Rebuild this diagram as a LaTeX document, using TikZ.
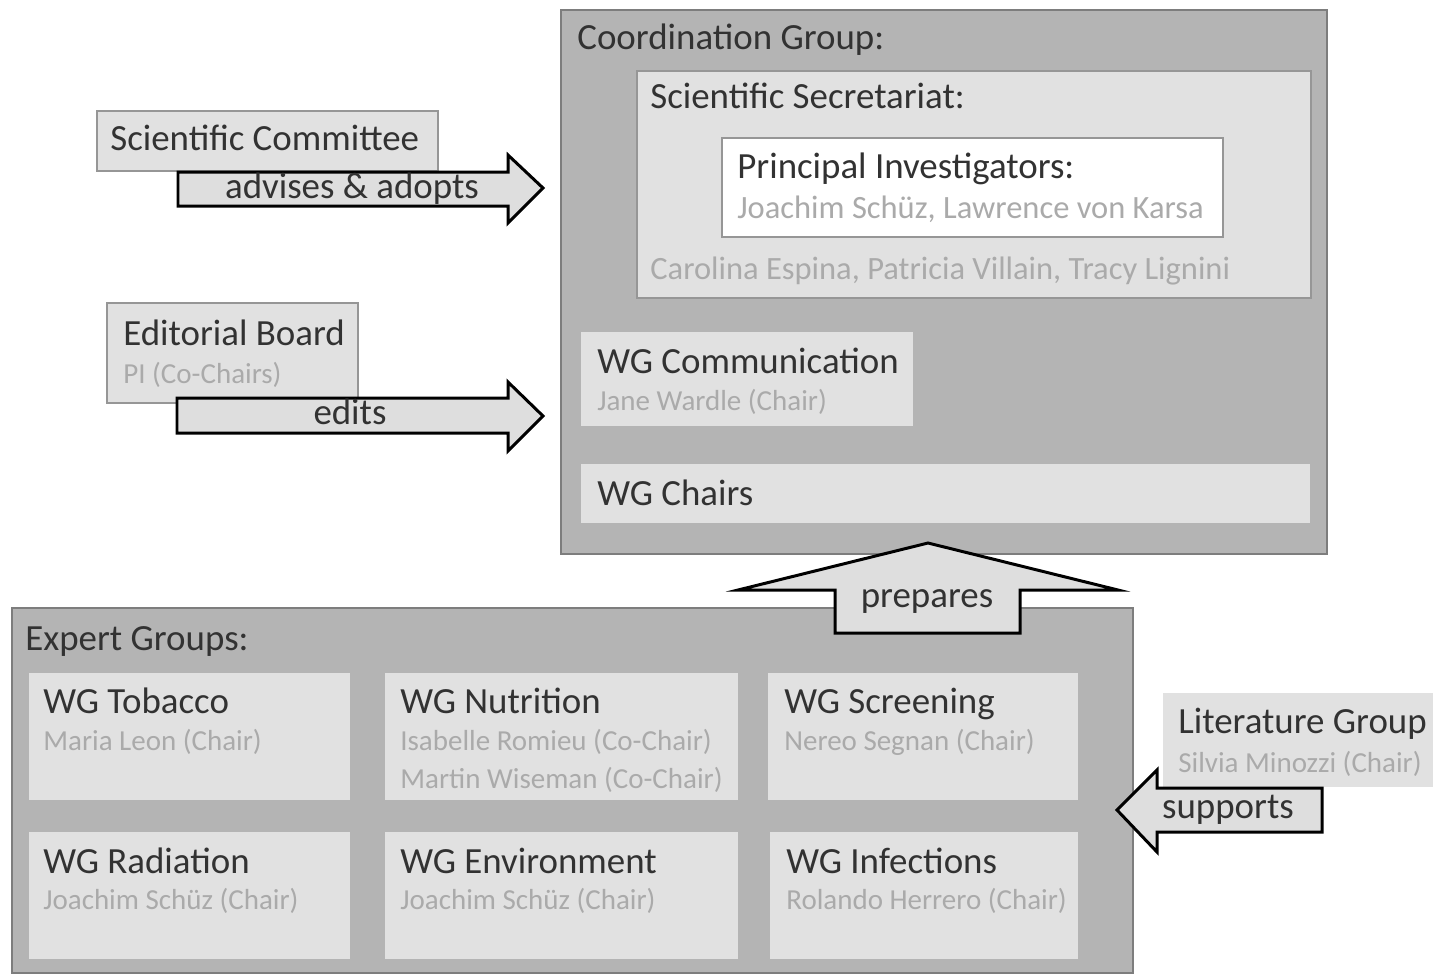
\documentclass[tikz,border=0pt]{standalone}
\usepackage{fontspec}
\setmainfont{Carlito}
\usetikzlibrary{positioning}

\definecolor{boxdark}{RGB}{180,180,180}
\definecolor{boxlight}{RGB}{225,225,225}
\definecolor{rimdark}{RGB}{125,125,125}
\definecolor{rimlight}{RGB}{150,150,150}
\definecolor{txtdark}{RGB}{50,50,50}
\definecolor{txtlight}{RGB}{170,170,170}
\definecolor{arrowfill}{RGB}{222,222,222}

\tikzset{
  outerbox/.style = {fill=boxdark, draw=rimdark, line width=1.2pt},
  innerbox/.style = {fill=boxlight, draw=rimlight, line width=1pt},
  wgbox/.style = {fill=boxlight, draw=none},
  title/.style = {anchor=base west, inner sep=0pt, text=txtdark, font=\fontsize{21}{25}\selectfont},
  names/.style = {anchor=base west, inner sep=0pt, text=txtlight, font=\fontsize{16.5}{20}\selectfont},
  bignames/.style = {names, font=\fontsize{18.5}{22}\selectfont},
  fat arrow/.style = {fill=arrowfill, draw=black, line width=1.7pt, line join=miter},
  arrowtext/.style = {anchor=base, inner sep=0pt, text=txtdark, font=\fontsize{21}{25}\selectfont}
}

\begin{document}
\begin{tikzpicture}[x=0.02cm, y=-0.02cm]

\useasboundingbox (0,0) rectangle (1433,975);

% coordination group
\draw[outerbox] (561,10) rectangle (1327,554);
\node[title] (coord) at (577,49) {Coordination Group:};

\draw[innerbox] (637,71) rectangle (1311,298);
\node[title] (secr) at (650,108) {Scientific Secretariat:};
\node[bignames] (secrnames) at (650,279) {Carolina Espina, Patricia Villain, Tracy Lignini};

\draw[fill=white, draw=rimlight, line width=1pt] (722,138) rectangle (1223,237);
\node[title] (pi) at (737,178) {Principal Investigators:};
\node[bignames] (pinames) at (737,218) {Joachim Schüz, Lawrence von Karsa};

\draw[wgbox] (581,332) rectangle (913,426);
\node[title] (comm) at (597,373) {WG Communication};
\node[names] (commnames) at (597,410) {Jane Wardle (Chair)};

\draw[wgbox] (581,464) rectangle (1310,523);
\node[title] (chairs) at (597,505) {WG Chairs};

% expert groups
\draw[outerbox] (12,608) rectangle (1133,973);
\node[title] (expert) at (25,650) {Expert Groups:};

\draw[wgbox] (29,673) rectangle (350,800);
\draw[wgbox] (385,673) rectangle (738,800);
\draw[wgbox] (768,673) rectangle (1078,800);
\draw[wgbox] (29,832) rectangle (350,959);
\draw[wgbox] (385,832) rectangle (738,959);
\draw[wgbox] (770,832) rectangle (1078,959);

\node[title] (tobacco) at (43,713) {WG Tobacco};
\node[names] (tobacconames) at (43,750) {Maria Leon (Chair)};
\node[title] (nutrition) at (400,713) {WG Nutrition};
\node[names] (nutritionnames) at (400,750) {Isabelle Romieu (Co-Chair)};
\node[names] (nutritionnames2) at (400,788) {Martin Wiseman (Co-Chair)};
\node[title] (screening) at (784,713) {WG Screening};
\node[names] (screeningnames) at (784,750) {Nereo Segnan (Chair)};

\node[title] (radiation) at (43,873) {WG Radiation};
\node[names] (radiationnames) at (43,909) {Joachim Schüz (Chair)};
\node[title] (environment) at (400,873) {WG Environment};
\node[names] (environmentnames) at (400,909) {Joachim Schüz (Chair)};
\node[title] (infections) at (786,873) {WG Infections};
\node[names] (infectionsnames) at (786,909) {Rolando Herrero (Chair)};

% side groups
\draw[wgbox] (1163,693) rectangle (1433,787);
\node[title] (lit) at (1178,733) {Literature Group};
\node[names] (litnames) at (1178,772) {Silvia Minozzi (Chair)};

\draw[innerbox] (97,111) rectangle (438,171);
\node[title] (committee) at (110,150) {Scientific Committee};

\draw[innerbox] (107,303) rectangle (358,403);
\node[title] (editorial) at (123,345) {Editorial Board};
\node[names] (editorialnames) at (123,383) {PI (Co-Chairs)};

% block arrows
\draw[fat arrow] (178,172) -- (508,172) -- (508,155) -- (543,188) -- (508,223) -- (508,206) -- (178,206) -- cycle;
\node[arrowtext] (advises) at (352,198) {advises \& adopts};

\draw[fat arrow] (177,398) -- (508,398) -- (508,382) -- (543,416) -- (508,451) -- (508,433) -- (177,433) -- cycle;
\node[arrowtext] (edits) at (350,424) {edits};

\draw[fat arrow] (835,633) -- (835,590) -- (738,590) -- (928,543) -- (1118,590) -- (1020,590) -- (1020,633) -- cycle;
\node[arrowtext] (prepares) at (927,607) {prepares};

\draw[fat arrow] (1322,788) -- (1157,788) -- (1157,770) -- (1117,810) -- (1157,852) -- (1157,832) -- (1322,832) -- cycle;
\node[arrowtext] (supports) at (1228,818) {supports};

\end{tikzpicture}
\end{document}
